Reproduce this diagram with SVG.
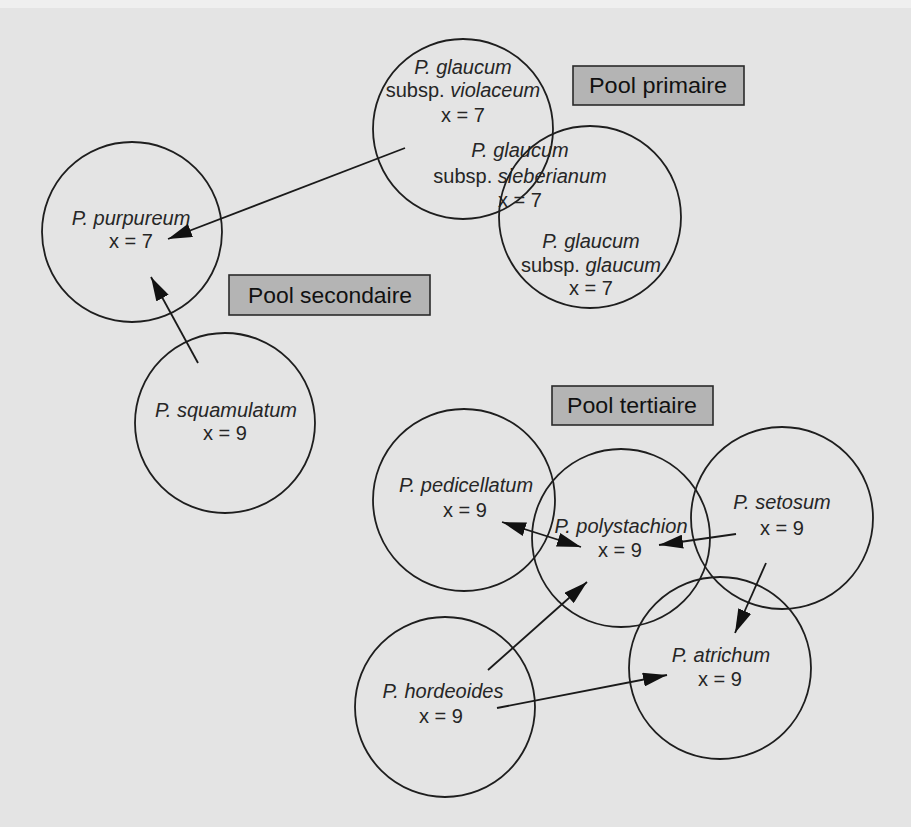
<svg xmlns="http://www.w3.org/2000/svg" width="911" height="827" viewBox="0 0 911 827">
<defs>
<marker id="ah" viewBox="0 0 24 14" markerWidth="24" markerHeight="14" refX="24" refY="7" orient="auto-start-reverse" markerUnits="userSpaceOnUse">
<path d="M0,0 L24,7 L0,14 z" fill="#111"/>
</marker>
<style>
.c{fill:none;stroke:#1e1e1e;stroke-width:1.8}
.t{font-family:"Liberation Sans","DejaVu Sans",sans-serif;font-size:20px;fill:#262626;text-anchor:middle}
.i{font-style:italic}
.box{fill:#b4b4b4;stroke:#2a2a2a;stroke-width:1.6}
.bt{font-family:"Liberation Sans","DejaVu Sans",sans-serif;font-size:22px;fill:#111;text-anchor:middle}
.a{fill:none;stroke:#1a1a1a;stroke-width:1.8;marker-end:url(#ah)}
</style>
</defs>
<rect x="0" y="0" width="911" height="827" fill="#e4e4e4"/>
<rect x="0" y="0" width="911" height="8" fill="#efefef"/>

<g id="violaceum">
<circle class="c" cx="463" cy="129" r="90"/>
<text class="t" x="463" y="74"><tspan class="i">P. glaucum</tspan></text>
<text class="t" x="463" y="97">subsp. <tspan class="i">violaceum</tspan></text>
<text class="t" x="463" y="122">x = 7</text>
</g>
<g id="sieberianum">
<text class="t" x="520" y="157"><tspan class="i">P. glaucum</tspan></text>
<text class="t" x="520" y="183">subsp. <tspan class="i">sieberianum</tspan></text>
<text class="t" x="520" y="207">x = 7</text>
</g>
<g id="glaucum">
<circle class="c" cx="590" cy="217" r="91"/>
<text class="t" x="591" y="248"><tspan class="i">P. glaucum</tspan></text>
<text class="t" x="591" y="272">subsp. <tspan class="i">glaucum</tspan></text>
<text class="t" x="591" y="295">x = 7</text>
</g>
<g id="pool-primaire">
<rect class="box" x="573" y="66" width="171" height="39"/>
<text class="bt" x="658" y="93" textLength="138" lengthAdjust="spacingAndGlyphs">Pool primaire</text>
</g>
<g id="purpureum">
<circle class="c" cx="132" cy="232" r="90"/>
<text class="t" x="131" y="225"><tspan class="i">P. purpureum</tspan></text>
<text class="t" x="131" y="248">x = 7</text>
</g>
<g id="pool-secondaire">
<rect class="box" x="229" y="275" width="201" height="40"/>
<text class="bt" x="330" y="303" textLength="164" lengthAdjust="spacingAndGlyphs">Pool secondaire</text>
</g>
<g id="squamulatum">
<circle class="c" cx="225" cy="423" r="90"/>
<text class="t" x="226" y="417"><tspan class="i">P. squamulatum</tspan></text>
<text class="t" x="225" y="440">x = 9</text>
</g>
<g id="pool-tertiaire">
<rect class="box" x="552" y="386" width="161" height="39"/>
<text class="bt" x="632" y="413" textLength="130" lengthAdjust="spacingAndGlyphs">Pool tertiaire</text>
</g>
<g id="pedicellatum">
<circle class="c" cx="464" cy="500" r="91"/>
<text class="t" x="466" y="492"><tspan class="i">P. pedicellatum</tspan></text>
<text class="t" x="465" y="517">x = 9</text>
</g>
<g id="polystachion">
<circle class="c" cx="621" cy="538" r="89"/>
<text class="t" x="621" y="533"><tspan class="i">P. polystachion</tspan></text>
<text class="t" x="620" y="557">x = 9</text>
</g>
<g id="setosum">
<circle class="c" cx="782" cy="518" r="91"/>
<text class="t" x="782" y="509"><tspan class="i">P. setosum</tspan></text>
<text class="t" x="782" y="535">x = 9</text>
</g>
<g id="atrichum">
<circle class="c" cx="720" cy="668" r="91"/>
<text class="t" x="721" y="662"><tspan class="i">P. atrichum</tspan></text>
<text class="t" x="720" y="686">x = 9</text>
</g>
<g id="hordeoides">
<circle class="c" cx="445" cy="707" r="90"/>
<text class="t" x="443" y="698"><tspan class="i">P. hordeoides</tspan></text>
<text class="t" x="441" y="723">x = 9</text>
</g>

<g id="connectors">
<line class="a" x1="405" y1="148" x2="168" y2="239"/>
<line class="a" x1="198" y1="363" x2="151" y2="277"/>
<line class="a" x1="502" y1="522" x2="581" y2="547" style="marker-start:url(#ah)"/>
<line class="a" x1="736" y1="534" x2="659" y2="545"/>
<line class="a" x1="766" y1="563" x2="735" y2="633"/>
<line class="a" x1="488" y1="670" x2="587" y2="582"/>
<line class="a" x1="497" y1="708" x2="667" y2="675"/>
</g>
</svg>
